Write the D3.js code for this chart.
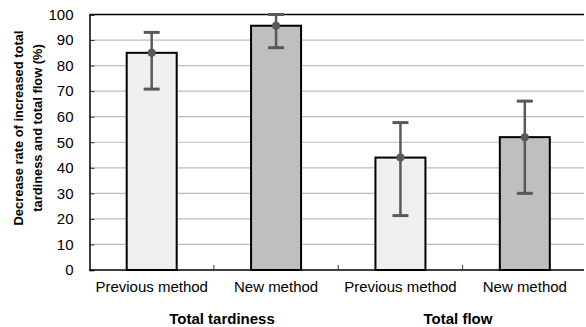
<!DOCTYPE html>
<html><head><meta charset="utf-8">
<script src="https://cdn.jsdelivr.net/npm/d3@7"></script>
<style>body{margin:0;background:#fff}svg{display:block;font-family:Arial,"Liberation Sans",sans-serif}</style>
</head><body>
<svg id="c" width="586" height="327"></svg>
<script>
const categories = ["Previous method","New method","Previous method","New method"];
const groups = ["Total tardiness","Total flow"];
const values = [85, 95.6, 44, 52];
const errUpper = [93, 100, 57.7, 66.1];
const errLower = [70.8, 87, 21.3, 30];
const fills = ["#efefef","#bfbfbf","#efefef","#bfbfbf"];
const yTicks = [0,10,20,30,40,50,60,70,80,90,100];

const svg = d3.select("#c");
const L = 89.5, R = 587, T = 14.5, B = 270;
const x = d3.scaleBand().domain(d3.range(categories.length)).range([L, R]).paddingInner(0).paddingOuter(0);
const y = d3.scaleLinear().domain([0,100]).range([B, T]);

// gridlines
svg.append("g").selectAll("line").data(yTicks.filter(d=>d>0 && d<100)).join("line")
  .attr("x1", L).attr("x2", 584).attr("y1", d=>y(d)).attr("y2", d=>y(d))
  .attr("stroke", "#bdbdbd").attr("stroke-width", 1.2);
// top border
svg.append("line").attr("x1", L).attr("x2", 584).attr("y1", y(100)).attr("y2", y(100))
  .attr("stroke", "#000").attr("stroke-width", 1.3);

// y axis
const yAxis = svg.append("g").attr("transform", `translate(${L},0)`)
  .call(d3.axisLeft(y).tickValues(yTicks).tickSize(-5).tickPadding(16).tickFormat(d3.format("d")));
yAxis.select(".domain").attr("stroke", "#000").attr("stroke-width", 1.5);
yAxis.selectAll(".tick line").attr("stroke", "#333");
yAxis.selectAll("text").attr("font-size", 15).attr("fill", "#000").attr("font-family","Arial,'Liberation Sans',sans-serif");

// x axis
const xAxis = svg.append("g").attr("transform", `translate(0,${B})`);
xAxis.append("line").attr("x1", L).attr("x2", 584).attr("stroke", "#000").attr("stroke-width", 1.5);
xAxis.selectAll("line.tk").data(d3.range(1, categories.length)).join("line").attr("class","tk")
  .attr("x1", d=>x(d)).attr("x2", d=>x(d)).attr("y1", 0).attr("y2", -5).attr("stroke", "#333");
xAxis.selectAll("text").data(categories).join("text")
  .attr("x", (d,i)=>x(i)+x.bandwidth()/2).attr("y", 22).attr("text-anchor","middle")
  .attr("font-size", 15).text(d=>d);

// bars
const bw = 50;
svg.append("g").selectAll("rect").data(values).join("rect")
  .attr("x", (d,i)=>x(i)+x.bandwidth()/2-bw/2).attr("width", bw)
  .attr("y", d=>y(d)).attr("height", d=>B-y(d))
  .attr("fill", (d,i)=>fills[i]).attr("stroke", "#000").attr("stroke-width", 2);

// error bars
const eg = svg.append("g");
values.forEach((v,i)=>{
  const cx = x(i)+x.bandwidth()/2;
  eg.append("line").attr("x1",cx).attr("x2",cx).attr("y1",y(errUpper[i])).attr("y2",y(errLower[i]))
    .attr("stroke","#595959").attr("stroke-width",2.5);
  [errUpper[i], errLower[i]].forEach(e=>{
    eg.append("line").attr("x1",cx-8).attr("x2",cx+8).attr("y1",y(e)).attr("y2",y(e))
      .attr("stroke","#595959").attr("stroke-width",3);
  });
  eg.append("circle").attr("cx",cx).attr("cy",y(v)).attr("r",4).attr("fill","#595959");
});

// group labels
const groupX = [222, 458];
svg.append("g").selectAll("text").data(groups).join("text")
  .attr("x",(d,i)=>groupX[i]).attr("y",324).attr("text-anchor","middle")
  .attr("font-size",15).attr("font-weight","bold").text(d=>d);

// y title
const yt = svg.append("text").attr("transform","translate(23,128) rotate(-90)")
  .attr("text-anchor","middle").attr("font-size",12.9).attr("font-weight","bold");
yt.append("tspan").attr("x",0).attr("y",0).text("Decrease rate of increased total");
yt.append("tspan").attr("x",0).attr("dy",19).text("tardiness and total flow (%)");
</script>
</body></html>
